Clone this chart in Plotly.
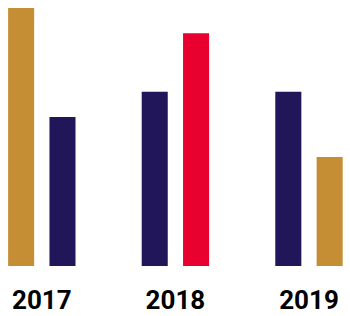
import plotly.graph_objects as go

years = ["2017", "2018", "2019"]
first_values = [97, 65.5, 65.5]
second_values = [56, 87.5, 41]

GOLD = "#C58D34"
NAVY = "#22165A"
RED = "#E8002F"
first_colors = [GOLD, NAVY, NAVY]
second_colors = [NAVY, RED, GOLD]

fig = go.Figure()
fig.add_trace(go.Bar(x=years, y=first_values, marker=dict(color=first_colors, line=dict(width=0))))
fig.add_trace(go.Bar(x=years, y=second_values, marker=dict(color=second_colors, line=dict(width=0))))

fig.update_layout(
    width=350, height=316,
    margin=dict(l=0, r=0, t=0, b=50),
    barmode="group", bargap=0.381, bargroupgap=0.37,
    showlegend=False,
    plot_bgcolor="white", paper_bgcolor="white",
    xaxis=dict(type="category", range=[-0.313, 2.307], showgrid=False, zeroline=False,
               showline=False, ticks="", ticklabelstandoff=16,
               tickfont=dict(family="Roboto", size=26, color="#000000", weight="bold")),
    yaxis=dict(range=[0, 100], visible=False),
)
fig.write_html("out.html")
